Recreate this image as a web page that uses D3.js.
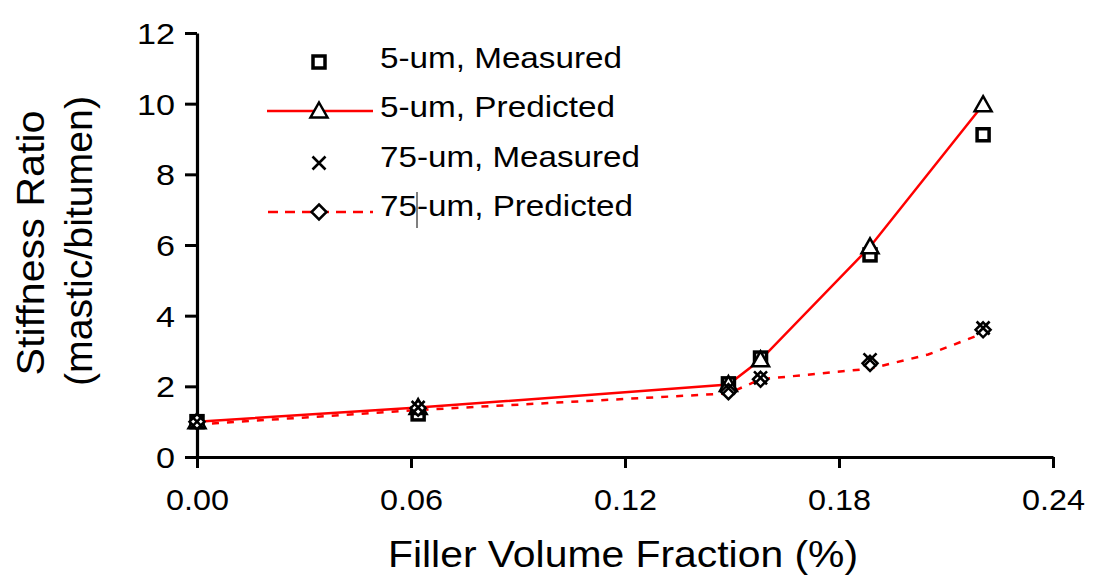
<!DOCTYPE html>
<html><head><meta charset="utf-8">
<script src="https://cdn.jsdelivr.net/npm/d3@7"></script>
<style>body{margin:0;background:#fff}svg{display:block}text{font-family:"Liberation Sans",Arial,sans-serif;fill:#000}</style>
</head><body><svg id="c" width="1098" height="576"></svg>
<script>
const xTicks=[0,0.06,0.12,0.18,0.24];
const yTicks=[0,2,4,6,8,10,12];
const xPts=[0,0.062,0.149,0.158,0.1887,0.2204];
const m5=[1.0,1.22,2.07,2.8,5.72,9.12];
const p5=[1.0,1.4,2.05,2.75,5.95,9.97];
const m75=[1.0,1.4,1.95,2.24,2.75,3.65];
const p75=[1.0,1.38,1.85,2.2,2.65,3.6];
const p75LineX=[0,0.062,0.149,0.158,0.1887,0.205,0.2204];
const p75LineY=[0.92,1.33,1.8,2.2,2.5,2.9,3.5];
const legendLabels=["5-um, Measured","5-um, Predicted","75-um, Measured","75-um, Predicted"];

const svg=d3.select("#c");
const x=d3.scaleLinear().domain([0,0.24]).range([197,1053]);
const y=d3.scaleLinear().domain([0,12]).range([457,33]);

const xa=svg.append("g").attr("transform","translate(0,457)")
 .call(d3.axisBottom(x).tickValues(xTicks).tickFormat(d3.format(".2f")).tickSize(11).tickSizeOuter(0));
const ya=svg.append("g").attr("transform","translate(197,0)")
 .call(d3.axisLeft(y).tickValues(yTicks).tickFormat(d3.format("d")).tickSize(12).tickSizeOuter(0));
[xa,ya].forEach(a=>{a.select(".domain").attr("stroke","#000").attr("stroke-width",3.2);
 a.selectAll(".tick line").attr("stroke","#000").attr("stroke-width",3);
 a.selectAll("text").style("font-size","30px").attr("fill","#000").attr("font-family",null);});
xa.selectAll("text").attr("y",0).attr("dy",null).attr("transform","translate(0,53)")
  .attr("textLength",63).attr("lengthAdjust","spacingAndGlyphs");
ya.selectAll("text").attr("x",-22).attr("dy","0.36em").style("font-size","29px")
  .attr("textLength",d=>String(d).length*19).attr("lengthAdjust","spacingAndGlyphs");

svg.append("text").attr("x",623).attr("y",567).attr("text-anchor","middle").style("font-size","36px")
 .attr("textLength",470).attr("lengthAdjust","spacingAndGlyphs").text("Filler Volume Fraction (%)");
svg.append("text").attr("transform","translate(44,243) rotate(-90)").attr("text-anchor","middle").style("font-size","38px")
 .attr("textLength",265).attr("lengthAdjust","spacingAndGlyphs").text("Stiffness Ratio");
svg.append("text").attr("transform","translate(92,241) rotate(-90)").attr("text-anchor","middle").style("font-size","38px")
 .attr("textLength",290).attr("lengthAdjust","spacingAndGlyphs").text("(mastic/bitumen)");

const line=d3.line().x(d=>x(d[0])).y(d=>y(d[1]));
svg.append("path").attr("d",line(p75LineX.map((v,i)=>[v,p75LineY[i]]))).attr("fill","none").attr("stroke","#f00").attr("stroke-width",2.5).attr("stroke-dasharray","7,8");
svg.append("path").attr("d",line(xPts.map((v,i)=>[v,p5[i]]))).attr("fill","none").attr("stroke","#f00").attr("stroke-width",2.5);

function marker(g,type,cx,cy){
 if(type==="sq") g.append("rect").attr("x",cx-6).attr("y",cy-6).attr("width",12).attr("height",12).attr("fill","#fff").attr("stroke","#000").attr("stroke-width",3.5);
 if(type==="tri") g.append("path").attr("d",`M${cx},${cy-8.5}L${cx+8.5},${cy+6.5}L${cx-8.5},${cy+6.5}Z`).attr("fill","#fff").attr("stroke","#000").attr("stroke-width",2.5);
 if(type==="x") g.append("path").attr("d",`M${cx-6.5},${cy-6.5}L${cx+6.5},${cy+6.5}M${cx+6.5},${cy-6.5}L${cx-6.5},${cy+6.5}`).attr("stroke","#000").attr("stroke-width",2.6);
 if(type==="dia") g.append("path").attr("d",`M${cx},${cy-7.5}L${cx+7.5},${cy}L${cx},${cy+7.5}L${cx-7.5},${cy}Z`).attr("fill","#fff").attr("stroke","#000").attr("stroke-width",2.5);
}
const mg=svg.append("g");
xPts.forEach((v,i)=>marker(mg,"sq",x(v),y(m5[i])));
xPts.forEach((v,i)=>marker(mg,"tri",x(v),y(p5[i])));
xPts.forEach((v,i)=>marker(mg,"dia",x(v),y(p75[i])));
xPts.forEach((v,i)=>marker(mg,"x",x(v),y(m75[i])));

const lg=svg.append("g");
const types=["sq","tri","x","dia"];
const rowY=[62,111,163,212];
const baseY=[68,117,167,216];
const textW=[242,235,260,253];
types.forEach((t,i)=>{
 const ry=rowY[i];
 if(t==="tri") lg.append("line").attr("x1",267).attr("x2",373).attr("y1",ry).attr("y2",ry).attr("stroke","#f00").attr("stroke-width",2.5);
 if(t==="dia") lg.append("line").attr("x1",268).attr("x2",373).attr("y1",ry).attr("y2",ry).attr("stroke","#f00").attr("stroke-width",2.5).attr("stroke-dasharray","10,7");
 marker(lg,t,319,ry);
 lg.append("text").attr("x",380).attr("y",baseY[i]).style("font-size","30px")
   .attr("textLength",textW[i]).attr("lengthAdjust","spacingAndGlyphs").text(legendLabels[i]);
});
lg.append("line").attr("x1",417).attr("x2",417).attr("y1",192).attr("y2",228).attr("stroke","#000").attr("stroke-width",1);
</script></body></html>
